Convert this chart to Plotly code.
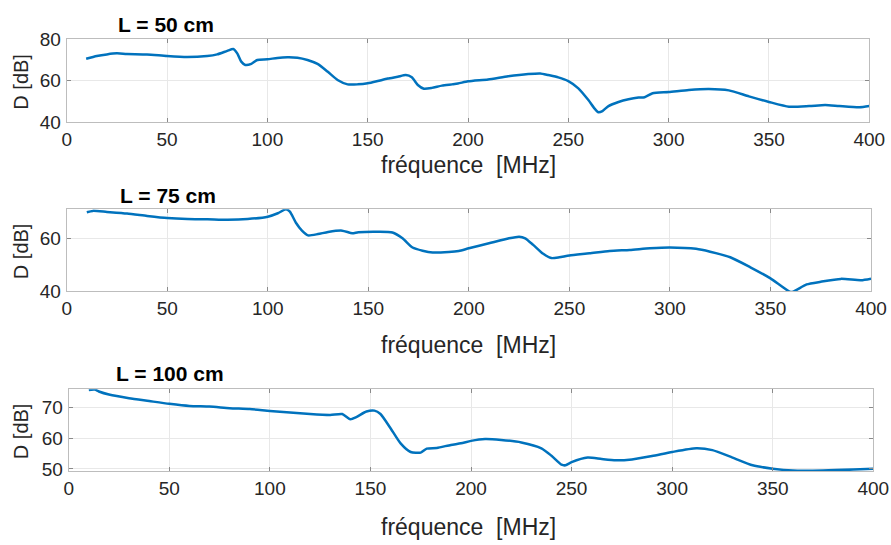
import plotly.graph_objects as go

# ---- Data ----
f50 = [9.7, 15, 20, 25, 30, 40, 50, 60, 70, 75, 80, 83, 85, 87, 89, 92, 95, 100, 105, 110,
       115, 120, 125, 130, 135, 140, 145, 150, 155, 160, 165, 169, 172, 175, 178, 182, 187,
       192, 195, 200, 210, 220, 230, 236, 240, 245, 250, 255, 260, 263, 265, 267, 270, 275,
       280, 285, 288, 292, 300, 310, 320, 330, 340, 350, 360, 370, 378, 385, 395, 400]
d50 = [70.6, 71.9, 72.7, 73.2, 72.9, 72.7, 71.9, 71.4, 71.9, 72.7, 74.4, 75.3, 73.2, 69.2,
       67.6, 68.1, 70.0, 70.3, 71.0, 71.3, 71.1, 70.0, 68.1, 64.4, 60.3, 58.2, 58.2, 58.7,
       59.8, 61.0, 61.9, 62.7, 61.6, 57.9, 56.1, 56.5, 57.6, 58.2, 58.6, 59.7, 60.6, 62.1,
       63.2, 63.5, 62.7, 61.6, 59.8, 56.3, 50.6, 46.6, 44.7, 45.3, 47.7, 49.7, 51.0, 51.8,
       52.0, 53.9, 54.5, 55.5, 56.0, 55.3, 52.4, 49.7, 47.4, 47.7, 48.2, 47.7, 47.1, 47.7]

f75 = [10, 13, 20, 30, 40, 50, 60, 70, 80, 90, 100, 105, 109, 111, 114, 117, 120, 125, 130,
       137, 142, 145, 155, 162, 167, 172, 177, 182, 190, 195, 200, 210, 220, 225, 228, 232,
       237, 241, 245, 250, 260, 270, 280, 290, 300, 313, 320, 330, 340, 350, 360, 362, 368,
       375, 385, 395, 400]
d75 = [69.9, 70.4, 70.0, 69.4, 68.5, 67.7, 67.3, 67.2, 67.0, 67.3, 68.2, 69.5, 71.0, 70.1,
       65.9, 62.9, 61.1, 61.6, 62.4, 62.9, 61.9, 62.3, 62.5, 62.2, 60.0, 56.5, 55.3, 54.6,
       54.8, 55.2, 56.2, 58.1, 60.0, 60.6, 60.0, 57.5, 54.1, 52.5, 52.8, 53.5, 54.3, 55.2,
       55.6, 56.2, 56.5, 56.0, 54.9, 52.8, 49.0, 44.8, 39.6, 40.0, 42.5, 43.5, 44.6, 44.1,
       44.7]

f100 = [10, 13, 15, 20, 30, 40, 50, 60, 70, 80, 90, 100, 110, 120, 130, 136, 140, 143, 148,
        152, 155, 160, 165, 170, 175, 178, 183, 190, 195, 200, 207, 215, 225, 235, 240, 245,
        247, 250, 258, 265, 272, 280, 290, 300, 312, 320, 330, 340, 350, 360, 375, 390, 400]
d100 = [75.6, 75.7, 75.1, 74.1, 72.9, 72.0, 71.1, 70.4, 70.2, 69.7, 69.4, 68.8, 68.3, 67.8,
        67.5, 67.8, 66.1, 66.8, 68.6, 68.9, 67.8, 63.2, 58.3, 55.5, 55.3, 56.6, 56.8, 57.8,
        58.3, 59.1, 59.7, 59.4, 58.6, 56.7, 54.3, 51.4, 51.2, 52.2, 53.7, 53.2, 52.8, 53.1,
        54.2, 55.5, 56.7, 56.1, 53.7, 51.2, 50.1, 49.5, 49.5, 49.8, 50.1]

titles = ["L = 50 cm", "L = 75 cm", "L = 100 cm"]
x_ticks = [0, 50, 100, 150, 200, 250, 300, 350, 400]
y_ticks = [[40, 60, 80], [40, 60], [50, 60, 70]]
y_ranges = [[40, 80], [40, 71], [49.35, 75.8]]
x_title = "fréquence  [MHz]"
y_title = "D [dB]"

# ---- Layout geometry ----
W, H = 891, 545
x_doms = [[66.7, 869.3], [66.7, 871.0], [68.7, 873.3]]
y_doms = [[39.3, 122.0], [209.3, 291.0], [389.3, 471.0]]
title_pos = [(166, 25), (168, 195), (170, 373)]
xtitle_y = [165, 345, 527]
ytitle_x = 21

BLUE = "#0072BD"
TXT = "#262626"
FONT = "Liberation Sans, Arial, sans-serif"

fig = go.Figure()
series = [(f50, d50), (f75, d75), (f100, d100)]
for i, (fx, dy) in enumerate(series):
    ax = "" if i == 0 else str(i + 1)
    fig.add_trace(go.Scatter(x=fx, y=dy, mode="lines",
                             line=dict(color=BLUE, width=2.5, shape="spline", smoothing=0.6),
                             xaxis="x" + ax, yaxis="y" + ax, showlegend=False,
                             hoverinfo="skip"))
    xd = [x_doms[i][0] / W, x_doms[i][1] / W]
    yd = [1 - y_doms[i][1] / H, 1 - y_doms[i][0] / H]
    common = dict(showline=True, linecolor="#bdbdbd", linewidth=1, mirror="ticks",
                  ticks="inside", ticklen=4, tickcolor="#8a8a8a", showgrid=True,
                  gridcolor="#e8e8e8", gridwidth=1, zeroline=False, automargin=False,
                  tickfont=dict(family=FONT, size=19, color=TXT))
    fig.layout["xaxis" + ax] = dict(domain=xd, range=[0, 400], tickvals=x_ticks,
                                    anchor="y" + ax, **common)
    fig.layout["yaxis" + ax] = dict(domain=yd, range=y_ranges[i], tickvals=y_ticks[i],
                                    anchor="x" + ax, ticklabelstandoff=1, **common)
    tx, ty = title_pos[i]
    fig.add_annotation(text="<b>" + titles[i] + "</b>", x=tx / W, y=1 - ty / H,
                       xref="paper", yref="paper", showarrow=False,
                       xanchor="center", yanchor="middle",
                       font=dict(family=FONT, size=21, color="#000000"))
    fig.add_annotation(text=x_title, x=468 / W, y=1 - xtitle_y[i] / H,
                       xref="paper", yref="paper", showarrow=False,
                       xanchor="center", yanchor="middle",
                       font=dict(family=FONT, size=23, color=TXT))
    ymid = (y_doms[i][0] + y_doms[i][1]) / 2 + 1
    fig.add_annotation(text=y_title, x=ytitle_x / W, y=1 - ymid / H,
                       xref="paper", yref="paper", showarrow=False, textangle=-90,
                       xanchor="center", yanchor="middle",
                       font=dict(family=FONT, size=20, color=TXT))

fig.update_layout(width=W, height=H, margin=dict(l=0, r=0, t=0, b=0, autoexpand=False),
                  paper_bgcolor="white", plot_bgcolor="white", hovermode=False)
fig.write_html("out.html", config={"displayModeBar": False},
               post_script="document.body.style.margin='0';document.body.style.overflow='hidden';")
